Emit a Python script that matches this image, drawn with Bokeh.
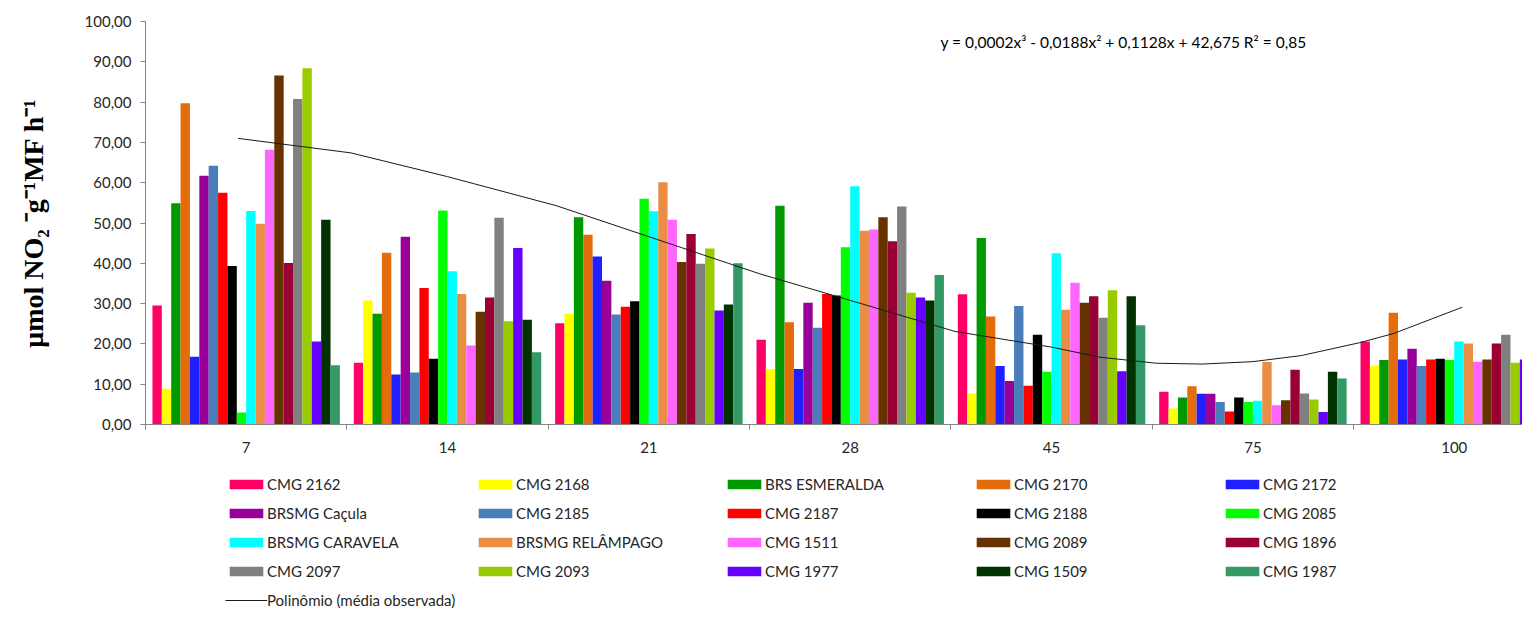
from bokeh.plotting import figure
from bokeh.layouts import column
from bokeh.models import Range1d, FixedTicker, Legend, LegendItem, Label, ColumnDataSource
from bokeh.transform import dodge
from bokeh.embed import file_html
from bokeh.resources import INLINE

# ---------------- data ----------------
days = ["7", "14", "21", "28", "45", "75", "100"]
day_pos = [1, 2, 3, 4, 5, 6, 7]

series_names = [
    "CMG 2162", "CMG 2168", "BRS ESMERALDA", "CMG 2170", "CMG 2172",
    "BRSMG Caçula", "CMG 2185", "CMG 2187", "CMG 2188", "CMG 2085",
    "BRSMG CARAVELA", "BRSMG RELÂMPAGO", "CMG 1511", "CMG 2089", "CMG 1896",
    "CMG 2097", "CMG 2093", "CMG 1977", "CMG 1509", "CMG 1987",
]
series_colors = [
    "#FF0066", "#FFFF00", "#009900", "#E46C0A", "#1F1FFF",
    "#990099", "#4A7EBB", "#FF0000", "#000000", "#00FF00",
    "#00FFFF", "#EA8E46", "#FF66FF", "#663300", "#990033",
    "#808080", "#99CC00", "#6600FF", "#003300", "#339966",
]

cmg2162 = [29.5, 15.3, 25.1, 21.0, 32.3, 8.1, 20.6]
cmg2168 = [8.9, 30.8, 27.5, 13.8, 7.7, 4.0, 14.6]
brs_esmeralda = [54.9, 27.5, 51.4, 54.3, 46.3, 6.7, 16.0]
cmg2170 = [79.7, 42.6, 47.1, 25.4, 26.8, 9.5, 27.7]
cmg2172 = [16.8, 12.4, 41.7, 13.8, 14.5, 7.6, 16.1]
brsmg_cacula = [61.7, 46.6, 35.7, 30.2, 10.8, 7.6, 18.8]
cmg2185 = [64.2, 12.9, 27.3, 24.0, 29.4, 5.6, 14.5]
cmg2187 = [57.5, 33.9, 29.2, 32.4, 9.6, 3.2, 16.1]
cmg2188 = [39.3, 16.3, 30.6, 32.0, 22.3, 6.7, 16.3]
cmg2085 = [3.0, 53.1, 56.0, 44.0, 13.1, 5.6, 16.0]
brsmg_caravela = [53.0, 38.0, 52.9, 59.1, 42.5, 5.9, 20.6]
brsmg_relampago = [49.8, 32.4, 60.1, 48.1, 28.5, 15.5, 20.1]
cmg1511 = [68.2, 19.6, 50.8, 48.4, 35.2, 4.8, 15.6]
cmg2089 = [86.6, 28.0, 40.3, 51.4, 30.2, 6.0, 16.1]
cmg1896 = [40.1, 31.5, 47.3, 45.5, 31.8, 13.6, 20.1]
cmg2097 = [80.8, 51.3, 39.9, 54.1, 26.5, 7.7, 22.3]
cmg2093 = [88.4, 25.6, 43.7, 32.7, 33.3, 6.2, 15.3]
cmg1977 = [20.6, 43.8, 28.3, 31.5, 13.2, 3.1, 16.1]
cmg1509 = [50.8, 26.0, 29.8, 30.8, 31.8, 13.1, 17.8]
cmg1987 = [14.7, 17.9, 40.0, 37.1, 24.6, 11.4, 16.0]

series_values = [
    cmg2162, cmg2168, brs_esmeralda, cmg2170, cmg2172,
    brsmg_cacula, cmg2185, cmg2187, cmg2188, cmg2085,
    brsmg_caravela, brsmg_relampago, cmg1511, cmg2089, cmg1896,
    cmg2097, cmg2093, cmg1977, cmg1509, cmg1987,
]

trend_x = [0.96, 1.52, 2.00, 2.54, 3.00, 3.55, 4.00, 4.52, 5.00, 5.24, 5.52, 5.75, 6.00, 6.24, 6.53, 6.70, 7.04]
trend_y = [71.0, 67.4, 61.5, 54.3, 46.6, 37.4, 30.8, 23.1, 19.2, 16.7, 15.2, 15.0, 15.6, 17.1, 20.3, 22.6, 29.1]
trend_label = "Polinômio (média observada)"
equation_text = "y = 0,0002x³ - 0,0188x² + 0,1128x + 42,675 R² = 0,85"

y_ticks = [0, 10, 20, 30, 40, 50, 60, 70, 80, 90, 100]
y_tick_labels = ["0,00", "10,00", "20,00", "30,00", "40,00", "50,00",
                 "60,00", "70,00", "80,00", "90,00", "100,00"]
y_title = "μmol NO₂ ⁻g⁻¹MF h⁻¹"

# ---------------- main chart ----------------
FONT = "Lato"
TXT = "#262626"
AXC = "#868686"
W = 1522

p = figure(
    width=W, height=465,
    output_backend="svg", toolbar_location=None,
    x_range=Range1d(0.5, 7.339), y_range=Range1d(0, 100),
    min_border_left=145, min_border_right=0, min_border_top=21, min_border_bottom=41,
)
p.outline_line_color = None
p.xgrid.visible = False
p.ygrid.visible = False

n = len(series_names)
bar_w = 0.04655
cols = {"x": day_pos}
for j in range(n):
    cols[f"s{j}"] = series_values[j]
src = ColumnDataSource(cols)

for j, name in enumerate(series_names):
    p.vbar(x=dodge("x", (j - (n - 1) / 2) * bar_w), top=f"s{j}", width=bar_w,
           source=src, fill_color=series_colors[j], line_color=None)

p.line(trend_x, trend_y, line_color="#1a1a1a", line_width=1)

# x axis
xa = p.xaxis[0]
xa.ticker = FixedTicker(ticks=day_pos, minor_ticks=[k + 0.5 for k in range(0, 8)])
xa.major_label_overrides = {pos: lab for pos, lab in zip(day_pos, days)}
xa.major_tick_line_color = None
xa.major_tick_out = 0
xa.major_tick_in = 0
xa.minor_tick_line_color = AXC
xa.minor_tick_out = 5
xa.minor_tick_in = 0
xa.axis_line_color = AXC
xa.major_label_standoff = 12
xa.major_label_text_font = FONT
xa.major_label_text_font_size = "15px"
xa.major_label_text_color = TXT

# y axis
ya = p.yaxis[0]
ya.ticker = FixedTicker(ticks=y_ticks, minor_ticks=[])
ya.major_label_overrides = {t: lab for t, lab in zip(y_ticks, y_tick_labels)}
ya.major_tick_line_color = AXC
ya.major_tick_out = 5
ya.major_tick_in = 0
ya.minor_tick_line_color = None
ya.axis_line_color = AXC
ya.major_label_standoff = 9
ya.major_label_text_font = FONT
ya.major_label_text_font_size = "15px"
ya.major_label_text_color = TXT
ya.axis_label = y_title
ya.axis_label_text_font = "Liberation Serif"
ya.axis_label_text_font_style = "bold"
ya.axis_label_text_font_size = "28px"
ya.axis_label_text_color = "black"
ya.axis_label_standoff = 33

# equation
p.add_layout(Label(x=4.448, y=94.9, text=equation_text, text_font=FONT,
                   text_font_size="15.5px", text_color="black",
                   text_baseline="middle", text_align="left"))

# ---------------- legend strip ----------------
lg = figure(
    width=W, height=145,
    output_backend="svg", toolbar_location=None,
    x_axis_type=None, y_axis_type=None,
    x_range=Range1d(0, 1), y_range=Range1d(0, 1),
    min_border_left=0, min_border_right=0, min_border_top=0, min_border_bottom=0,
)
lg.outline_line_color = None
lg.xgrid.visible = False
lg.ygrid.visible = False

nan = float("nan")
placeholder = ColumnDataSource({"x": [nan], "top": [nan]})
items = []
for j, name in enumerate(series_names):
    r = lg.vbar(x="x", top="top", width=0.1, source=placeholder,
                fill_color=series_colors[j], line_color=None)
    items.append(LegendItem(label=name, renderers=[r]))
rl = lg.line(x="x", y="top", source=placeholder, line_color="#1a1a1a", line_width=1)
items.append(LegendItem(label=trend_label, renderers=[rl]))

legend = Legend(
    items=items, orientation="horizontal", ncols=5,
    location=(80, 1),
    glyph_width=42, glyph_height=12, label_height=19, label_width=197,
    label_standoff=0, spacing=10, padding=0, margin=0,
    label_text_font=FONT, label_text_font_size="15px", label_text_color=TXT,
    border_line_color=None, background_fill_alpha=0,
)
lg.add_layout(legend, "center")

layout = column(p, lg, spacing=0)
open("out.html", "w").write(file_html(layout, INLINE))
